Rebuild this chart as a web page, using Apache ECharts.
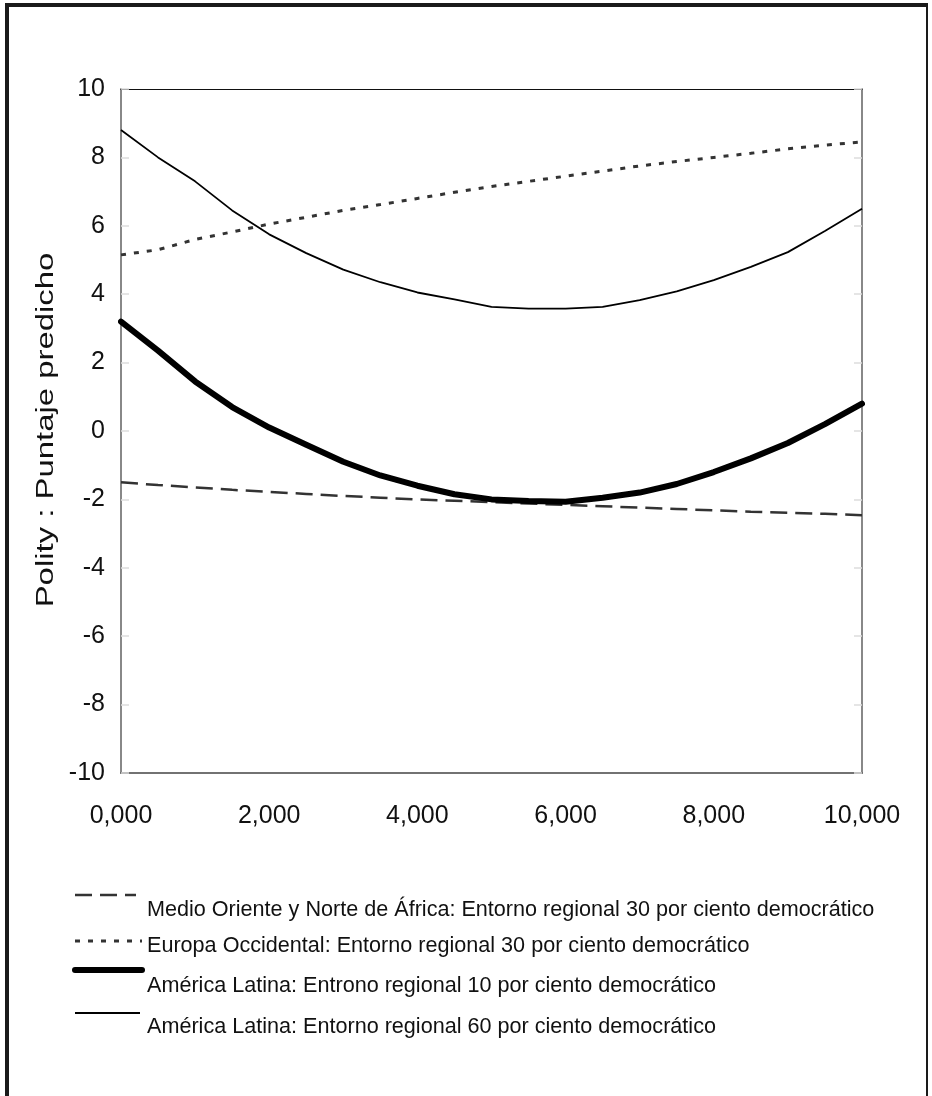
<!DOCTYPE html>
<html>
<head>
<meta charset="utf-8">
<script src="https://cdn.jsdelivr.net/npm/echarts@6/dist/echarts.min.js"></script>
<style>
  html, body { margin: 0; padding: 0; background: #fff; }
  #chart { position: absolute; left: 0; top: 0; width: 932px; height: 1096px; }
  #frame { position: absolute; left: 5px; top: 3px; width: 923px; height: 1100px;
           border-left: 4px solid #1a1a1a; border-top: 4px solid #1a1a1a; border-right: 2px solid #1a1a1a;
           pointer-events: none; box-sizing: border-box; }
</style>
</head>
<body>
<div id="chart"></div>
<div id="frame"></div>
<script>
// x positions (0 .. 10, labelled with three decimals, Spanish comma)
const xValues = [0, 0.5, 1, 1.5, 2, 2.5, 3, 3.5, 4, 4.5, 5, 5.5, 6, 6.5, 7, 7.5, 8, 8.5, 9, 9.5, 10];
const xTickLabels = ["0,000", "2,000", "4,000", "6,000", "8,000", "10,000"];
const yTickLabels = ["-10", "-8", "-6", "-4", "-2", "0", "2", "4", "6", "8", "10"];
const yAxisTitle = "Polity : Puntaje predicho";

const seriesNames = [
  "Medio Oriente y Norte de África: Entorno regional 30 por ciento democrático",
  "Europa Occidental: Entorno regional 30 por ciento democrático",
  "América Latina: Entrono regional 10 por ciento democrático",
  "América Latina: Entorno regional 60 por ciento democrático"
];

const menaValues = [-1.5, -1.58, -1.65, -1.72, -1.78, -1.84, -1.9, -1.95, -2.0, -2.04, -2.08, -2.12, -2.16, -2.2, -2.24, -2.28, -2.32, -2.36, -2.39, -2.42, -2.46];
const europeValues = [5.15, 5.3, 5.6, 5.82, 6.05, 6.25, 6.45, 6.62, 6.8, 6.98, 7.15, 7.3, 7.45, 7.6, 7.75, 7.88, 8.0, 8.12, 8.25, 8.36, 8.45];
const latam10Values = [3.2, 2.35, 1.45, 0.7, 0.1, -0.4, -0.9, -1.3, -1.6, -1.85, -2.0, -2.05, -2.07, -1.95, -1.8, -1.55, -1.2, -0.8, -0.35, 0.2, 0.8];
const latam60Values = [8.8, 8.0, 7.3, 6.45, 5.75, 5.2, 4.72, 4.35, 4.05, 3.85, 3.63, 3.58, 3.58, 3.63, 3.83, 4.08, 4.41, 4.8, 5.23, 5.85, 6.5];

const font = "'Liberation Sans', Arial, sans-serif";
const pair = vals => xValues.map((x, i) => [x, vals[i]]);

const chart = echarts.init(document.getElementById('chart'), null, { renderer: 'canvas' });

const legendRows = [
  { lineY: 895, textY: 921, x2: 136, style: { stroke: '#333', lineWidth: 2.5, lineDash: [17, 8] } },
  { lineY: 941, textY: 957, x2: 142, style: { stroke: '#333', lineWidth: 3, lineDash: [5, 8] } },
  { lineY: 970, textY: 997, x2: 142, style: { stroke: '#000', lineWidth: 6, lineCap: 'round' } },
  { lineY: 1013, textY: 1038, x2: 140, style: { stroke: '#000', lineWidth: 1.8 } }
];
const graphic = [];
legendRows.forEach((r, i) => {
  graphic.push({ type: 'line', shape: { x1: 75, y1: r.lineY, x2: r.x2, y2: r.lineY }, style: r.style, silent: true });
  graphic.push({ type: 'text', x: 147, y: r.textY,
    style: { text: seriesNames[i], font: '21.6px ' + font, fill: '#111', textVerticalAlign: 'bottom' }, silent: true });
});
// rotated, stretched y-axis title
graphic.push({ type: 'text', x: 47, y: 430, rotation: Math.PI / 2, scaleX: 1.43, scaleY: 1,
  style: { text: yAxisTitle, font: '23px ' + font, fill: '#111', textAlign: 'center', textVerticalAlign: 'middle' }, silent: true });

const baseAxisLine = { show: true, onZero: false };

chart.setOption({
  animation: false,
  backgroundColor: '#fff',
  grid: { left: 121, right: 70, top: 89, bottom: 323, containLabel: false },
  xAxis: [
    {
      type: 'value', min: 0, max: 10, interval: 2, position: 'bottom',
      axisLine: Object.assign({ lineStyle: { color: '#444', width: 1.5 } }, baseAxisLine),
      axisTick: { show: false },
      splitLine: { show: false },
      axisLabel: { margin: 31, fontSize: 25, fontFamily: font, color: '#111',
        formatter: v => xTickLabels[Math.round(v / 2)] }
    },
    {
      type: 'value', min: 0, max: 10, interval: 2, position: 'top',
      axisLine: Object.assign({ lineStyle: { color: '#111', width: 1.2 } }, baseAxisLine),
      axisTick: { show: false }, axisLabel: { show: false }, splitLine: { show: false }
    }
  ],
  yAxis: [
    {
      type: 'value', min: -10, max: 10, interval: 2, position: 'left',
      axisLine: Object.assign({ lineStyle: { color: '#888', width: 2 } }, baseAxisLine),
      axisTick: { show: true, inside: true, length: 8, lineStyle: { color: '#ddd', width: 1.5 } },
      splitLine: { show: false },
      axisLabel: { margin: 16, fontSize: 25, fontFamily: font, color: '#111',
        formatter: v => yTickLabels[Math.round((v + 10) / 2)] }
    },
    {
      type: 'value', min: -10, max: 10, interval: 2, position: 'right',
      axisLine: Object.assign({ lineStyle: { color: '#888', width: 2 } }, baseAxisLine),
      axisTick: { show: true, inside: true, length: 8, lineStyle: { color: '#ddd', width: 1.5 } },
      axisLabel: { show: false }, splitLine: { show: false }
    }
  ],
  series: [
    { name: seriesNames[0], type: 'line', data: pair(menaValues), showSymbol: false, smooth: false,
      lineStyle: { color: '#333', width: 2.5, type: [17, 8] }, z: 2 },
    { name: seriesNames[1], type: 'line', data: pair(europeValues), showSymbol: false,
      lineStyle: { color: '#333', width: 3, type: [5, 8] }, z: 2 },
    { name: seriesNames[2], type: 'line', data: pair(latam10Values), showSymbol: false,
      lineStyle: { color: '#000', width: 6, cap: 'round', join: 'round' }, z: 3 },
    { name: seriesNames[3], type: 'line', data: pair(latam60Values), showSymbol: false,
      lineStyle: { color: '#000', width: 1.8 }, z: 3 }
  ],
  graphic: graphic
});
</script>
</body>
</html>
